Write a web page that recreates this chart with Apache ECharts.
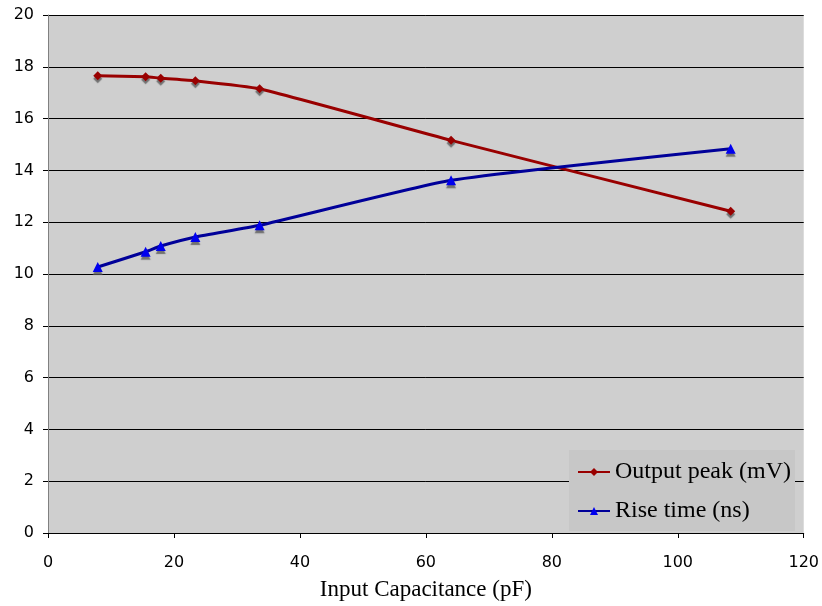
<!DOCTYPE html>
<html>
<head>
<meta charset="utf-8">
<script src="https://cdn.jsdelivr.net/npm/echarts@6/dist/echarts.min.js"></script>
<style>
  html, body { margin: 0; padding: 0; background: #ffffff; }
  #chart { width: 822px; height: 606px; }
</style>
</head>
<body>
<div id="chart"></div>
<script>
// Input capacitance (pF) for each measurement
const capacitance = [7.9, 15.5, 17.9, 23.4, 33.6, 64.0, 108.4];
// Output peak amplitude (mV)
const outputPeak = [17.65, 17.62, 17.56, 17.46, 17.15, 15.16, 12.42];
// Rise time (ns)
const riseTime = [10.27, 10.86, 11.08, 11.43, 11.88, 13.62, 14.84];

const pairs = (xs, ys) => xs.map((x, i) => [x, ys[i]]);

const chart = echarts.init(document.getElementById('chart'));
chart.setOption({
  animation: false,
  backgroundColor: '#ffffff',
  grid: { left: 48, right: 17, top: 15, bottom: 70, show: true, backgroundColor: '#cfcfcf', borderWidth: 0 },
  // legend panel background
  graphic: [{
    type: 'rect', left: 569, top: 450, z: 5,
    shape: { width: 226, height: 81 },
    style: { fill: '#c7c7c7' }
  }],
  xAxis: {
    type: 'value', min: 0, max: 120, interval: 20,
    name: 'Input Capacitance (pF)', nameLocation: 'middle', nameGap: 45,
    nameTextStyle: { fontFamily: 'Liberation Serif', fontSize: 23, color: '#000' },
    axisLine: { show: true, lineStyle: { color: '#000', width: 1 } },
    axisTick: { show: true, length: 5, lineStyle: { color: '#000' } },
    axisLabel: { fontFamily: 'DejaVu Sans', fontSize: 16, color: '#000', margin: 22 },
    splitLine: { show: false }
  },
  yAxis: {
    type: 'value', min: 0, max: 20, interval: 2,
    axisLine: { show: true, lineStyle: { color: '#808080', width: 1 } },
    axisTick: { show: true, length: 5, lineStyle: { color: '#000' } },
    axisLabel: { fontFamily: 'DejaVu Sans', fontSize: 16, color: '#000', margin: 14 },
    splitLine: { show: true, lineStyle: { color: '#000', width: 1 } }
  },
  legend: {
    left: 569, top: 450,
    orient: 'vertical',
    z: 6,
    padding: [10, 8, 8, 8],
    itemGap: 15,
    itemWidth: 32, itemHeight: 10,
    backgroundColor: 'transparent',
    textStyle: { fontFamily: 'Liberation Serif', fontSize: 24, color: '#000', padding: [0, 0, 0, 0] },
    data: ['Output peak (mV)', 'Rise time (ns)']
  },
  series: [
    {
      name: 'Output peak (mV)',
      type: 'line',
      smooth: 0.15,
      data: pairs(capacitance, outputPeak),
      symbol: 'diamond', symbolSize: 9,
      lineStyle: { color: '#990000', width: 3 },
      itemStyle: { color: '#990000', shadowColor: 'rgba(90,90,90,0.8)', shadowBlur: 1, shadowOffsetY: 3, shadowOffsetX: 0 }
    },
    {
      name: 'Rise time (ns)',
      type: 'line',
      smooth: 0.15,
      data: pairs(capacitance, riseTime),
      symbol: 'triangle', symbolSize: 10,
      lineStyle: { color: '#000099', width: 3 },
      itemStyle: { color: '#0000ee', shadowColor: 'rgba(90,90,90,0.8)', shadowBlur: 1, shadowOffsetY: 3, shadowOffsetX: 0 }
    }
  ]
});
</script>
</body>
</html>
